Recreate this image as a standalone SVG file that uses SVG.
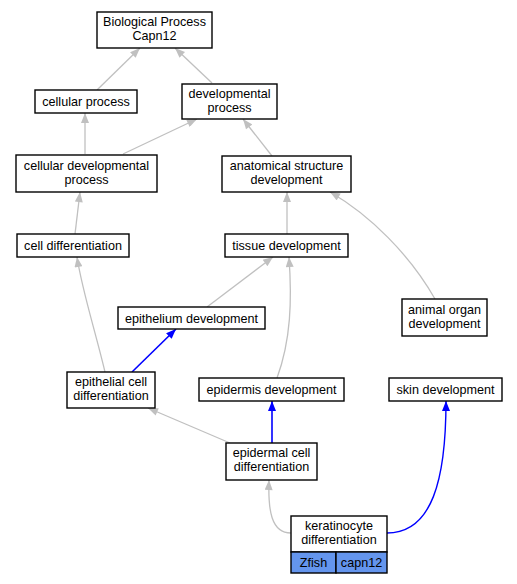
<svg xmlns="http://www.w3.org/2000/svg" width="517" height="584" viewBox="0 0 517 584">
<defs>
<style>
.n rect{fill:#fff;stroke:#000;stroke-width:1.4}
.n text,.t{font-family:"Liberation Sans",Arial,sans-serif;font-size:12.6px;fill:#000;text-anchor:middle}
.g{fill:none;stroke:#c0c0c0;stroke-width:1.3;marker-end:url(#ag)}
.b{fill:none;stroke:#0000ff;stroke-width:1.6;marker-end:url(#ab)}
.blue{fill:#6495ed !important}
</style>
<marker id="ag" viewBox="0 0 10 8" refX="10" refY="4" markerWidth="11" markerHeight="8" markerUnits="userSpaceOnUse" orient="auto"><path d="M0,0 L10,4 L0,8 z" fill="#c0c0c0"/></marker>
<marker id="ab" viewBox="0 0 10 8" refX="10" refY="4" markerWidth="11" markerHeight="8" markerUnits="userSpaceOnUse" orient="auto"><path d="M0,0 L10,4 L0,8 z" fill="#0000ff"/></marker>
</defs>
<rect width="517" height="584" fill="#fff"/>
<g id="edges">
<path class="g" d="M97,90 L140,48"/>
<path class="g" d="M212,83 L175,48"/>
<path class="g" d="M85,154 L85,113"/>
<path class="g" d="M123,154 L197,119"/>
<path class="g" d="M272,156 L243,119"/>
<path class="g" d="M75,234 L80,192"/>
<path class="g" d="M287,234 L287,192"/>
<path class="g" d="M435,299 C410,255 370,215 330,192"/>
<path class="g" d="M207,307 L273,257"/>
<path class="g" d="M277,378 C291,340 292,300 289,257"/>
<path class="g" d="M105,372 C95,330 82,290 77,257"/>
<path class="b" d="M132,372 L176,329"/>
<path class="g" d="M230,443 L148,408"/>
<path class="b" d="M272,443 L272,401"/>
<path class="g" d="M291,533 C271,533 268,510 269,480"/>
<path class="b" d="M387,533 C432,533 446,480 446,401" style="stroke-width:1.4"/>
</g>
<g id="n_bp" class="n"><rect x="97" y="12" width="115" height="36"/><text x="154.5" y="26">Biological Process</text><text x="154.5" y="40">Capn12</text></g>
<g id="n_cp" class="n"><rect x="35" y="90" width="102" height="23"/><text x="86" y="106">cellular process</text></g>
<g id="n_dp" class="n"><rect x="182" y="84" width="95" height="35"/><text x="229.5" y="97.5">developmental</text><text x="229.5" y="111.5">process</text></g>
<g id="n_cdp" class="n"><rect x="16" y="155" width="141" height="37"/><text x="86.5" y="169.5">cellular developmental</text><text x="86.5" y="183.5">process</text></g>
<g id="n_asd" class="n"><rect x="222" y="156" width="129" height="36"/><text x="286.5" y="170">anatomical structure</text><text x="286.5" y="184">development</text></g>
<g id="n_cd" class="n"><rect x="17" y="234" width="112" height="23"/><text x="73" y="250">cell differentiation</text></g>
<g id="n_td" class="n"><rect x="225" y="234" width="123" height="23"/><text x="286.5" y="250">tissue development</text></g>
<g id="n_ed" class="n"><rect x="118" y="307" width="147" height="22"/><text x="191.5" y="322.5">epithelium development</text></g>
<g id="n_aod" class="n"><rect x="402" y="299" width="85" height="37"/><text x="444.5" y="313.5">animal organ</text><text x="444.5" y="327.5">development</text></g>
<g id="n_ecd" class="n"><rect x="67" y="372" width="88" height="36"/><text x="111" y="386">epithelial cell</text><text x="111" y="400">differentiation</text></g>
<g id="n_epd" class="n"><rect x="199" y="378" width="145" height="23"/><text x="271.5" y="394">epidermis development</text></g>
<g id="n_sd" class="n"><rect x="389" y="378" width="113" height="23"/><text x="445.5" y="394">skin development</text></g>
<g id="n_edcd" class="n"><rect x="226" y="443" width="91" height="37"/><text x="271.5" y="457">epidermal cell</text><text x="271.5" y="471">differentiation</text></g>
<g id="n_kd" class="n"><rect x="291" y="516" width="96" height="36"/><text x="339" y="529.5">keratinocyte</text><text x="339" y="543.5">differentiation</text>
<rect class="blue" x="291" y="552" width="45" height="21"/><rect class="blue" x="336" y="552" width="51" height="21"/><text x="313.5" y="566.5">Zfish</text><text x="361.5" y="566.5">capn12</text></g>
</svg>
